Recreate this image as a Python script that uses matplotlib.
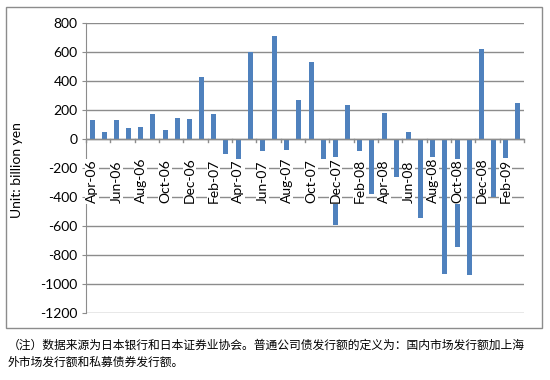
import matplotlib
matplotlib.use('Agg')
import matplotlib.pyplot as plt  # noqa E402
from matplotlib.patches import Rectangle  # noqa E402
from matplotlib.transforms import offset_copy  # noqa E402

# Monthly corporate bond issuance change, Apr-06 .. Mar-09
months = ["Apr-06", "May-06", "Jun-06", "Jul-06", "Aug-06", "Sep-06",
          "Oct-06", "Nov-06", "Dec-06", "Jan-07", "Feb-07", "Mar-07",
          "Apr-07", "May-07", "Jun-07", "Jul-07", "Aug-07", "Sep-07",
          "Oct-07", "Nov-07", "Dec-07", "Jan-08", "Feb-08", "Mar-08",
          "Apr-08", "May-08", "Jun-08", "Jul-08", "Aug-08", "Sep-08",
          "Oct-08", "Nov-08", "Dec-08", "Jan-09", "Feb-09", "Mar-09"]
values = [130, 50, 130, 75, 85, 170,
          65, 145, 135, 430, 170, -100,
          -280, 600, -80, 710, -75, 270,
          530, -135, -590, 235, -85, -380,
          180, -265, 45, -545, -260, -930,
          -745, -935, 620, -400, -200, 250]
y_ticks = [800, 600, 400, 200, 0, -200, -400, -600, -800, -1000, -1200]

note = ("（注）数据来源为日本银行和日本证券业协会。普通公司债发行额的定义为：国内市场发行额加上海\n"
        "外市场发行额和私募债券发行额。")

plt.rcParams['font.family'] = ['Lato', 'DejaVu Sans']
plt.rcParams['axes.unicode_minus'] = False

W, H = 550, 380
fig = plt.figure(figsize=(W / 100, H / 100), dpi=100)

# Chart area border
fig.patches.append(Rectangle((6 / W, 1 - 328 / H), 536 / W, 321 / H,
                             transform=fig.transFigure, fill=False,
                             edgecolor='#8c8c8c', linewidth=1))

ax = fig.add_axes([86 / W, 1 - 313 / H, 438 / W, 290 / H])
x = list(range(len(months)))
ax.bar(x, values, width=0.42, color='#4f81bd', zorder=2)

ax.set_xlim(-0.5, len(months) - 0.5)
ax.set_ylim(-1200, 800)
ax.set_yticks(y_ticks)
ax.set_yticklabels([str(v) for v in y_ticks], fontsize=10)
ax.yaxis.grid(True, color='#8c8c8c', linewidth=1, zorder=0)
ax.tick_params(axis='y', length=3, color='#8c8c8c', pad=3)
for s in ['top', 'right', 'bottom']:
    ax.spines[s].set_visible(False)
ax.spines['left'].set_color('#8c8c8c')
ax.set_xticks([])

# Category axis at zero with ticks every two months
ax.axhline(0, color='#8c8c8c', linewidth=1, zorder=3)
for b in range(0, len(months) + 1, 2):
    ax.plot([b - 0.5, b - 0.5], [0, -22], color='#8c8c8c',
            linewidth=1, zorder=3, clip_on=False)

# Month labels (every other one), anchored 64 px below the zero line
lab_tr = offset_copy(ax.transData, fig=fig, x=0, y=-64, units='dots')
for i in range(0, len(months), 2):
    ax.text(i, 0, months[i], rotation=90, ha='center', va='bottom',
            fontsize=10, transform=lab_tr, zorder=4,
            bbox=dict(facecolor='white', edgecolor='none', pad=0.5))

fig.text(17 / W, 1 - 170 / H, "Unit: billion yen", rotation=90,
         ha='center', va='center', fontsize=10)

fig.text(8 / W, 1 - 339 / H, note, ha='left', va='top', fontsize=8.5,
         linespacing=1.4,
         family=['Noto Sans CJK SC', 'DejaVu Sans'])

fig.savefig('out.png', dpi=100)
